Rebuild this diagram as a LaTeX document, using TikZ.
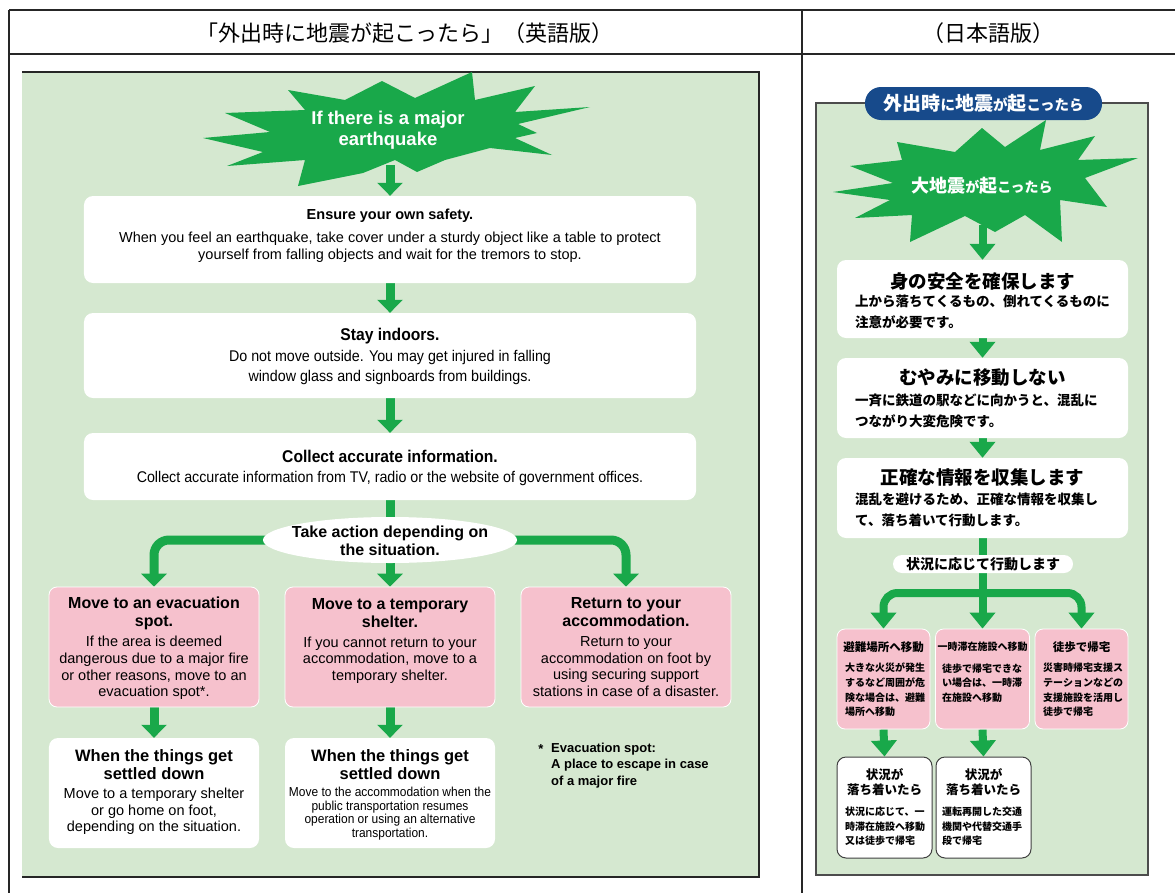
\documentclass[tikz,border=0pt]{standalone}
\usepackage{fontspec}
\setmainfont{Liberation Sans}
\newfontfamily\narrowfont[FakeStretch=0.92]{Liberation Sans}
\newfontfamily\jp{Noto Sans CJK JP}
\usetikzlibrary{arrows.meta,shapes.geometric}
\definecolor{panelgreen}{HTML}{D5E8D0}
\definecolor{stargreen}{HTML}{19A84A}
\definecolor{pinkbox}{HTML}{F6C1CD}
\definecolor{navy}{HTML}{174A8B}
\pgfdeclarelayer{bg}\pgfdeclarelayer{arr}\pgfsetlayers{bg,arr,main}
\newcommand\fs[2]{\fontsize{#1bp}{#2bp}\selectfont}
\tikzset{
  wbox/.style={fill=white, rounded corners=9bp, inner sep=0pt, draw=none},
  pbox/.style={fill=pinkbox, draw=white, line width=0.8bp, rounded corners=8bp, inner sep=0pt},
  qbox/.style={fill=white, draw=black!75, line width=1bp, rounded corners=9bp, inner sep=0pt},
  txt/.style={inner sep=0pt, align=center},
  ltxt/.style={inner sep=0pt, align=left, anchor=west},
  garrow/.style={draw=stargreen, line width=9bp, -{Triangle[width=25bp,length=13bp]}},
  jarrow/.style={draw=stargreen, line width=8bp, -{Triangle[width=25bp,length=16bp]}},
  rule/.style={draw=black!85, line width=1.6bp},
}
\begin{document}
\begin{tikzpicture}[x=1bp,y=-1bp]
\useasboundingbox (0,0) rectangle (1175,893);
% ---------- table ----------
\draw[rule] (9,10) -- (1175,10);
\draw[rule] (9,54) -- (1175,54);
\draw[rule] (9,10) -- (9,893);
\draw[rule] (802,10) -- (802,893);
\node[inner sep=0pt, font=\jp\fs{22}{22}] (h1) at (405,33) {「外出時に地震が起こったら」（英語版）};
\node[inner sep=0pt, font=\jp\fs{22}{22}] (h2) at (988,33) {（日本語版）};
% ---------- panels ----------
\begin{pgfonlayer}{bg}
\fill[panelgreen] (22,72) rectangle (759,877);
\draw[black!85, line width=1.5bp] (22,72) -- (759,72) -- (759,877) -- (22,877);
\fill[panelgreen] (816,103) rectangle (1148,875);
\draw[black!70, line width=1.2bp] (816,103) rectangle (1148,875);
\end{pgfonlayer}
% ---------- English star ----------
\fill[stargreen] (203,138) -- (270,132) -- (225,113) -- (305,110) -- (288,90) -- (345,100) -- (382,81) -- (415,98) -- (472,72) -- (475,100) -- (535,86) -- (515,112) -- (590,107) -- (518,124) -- (537,133) -- (515,138) -- (552,155) -- (490,148) -- (445,160) -- (417,172) -- (395,160) -- (363,173) -- (298,186) -- (305,160) -- (227,166) -- (263,152) -- cycle;
\node[txt, text=white, font=\bfseries\fs{18.5}{21.5}] (s1t) at (388,130) {If there is a major\\earthquake};
\coordinate (s1b) at (390,165);
% ---------- English boxes ----------
\node[wbox, minimum width=612bp, minimum height=87bp] (b1) at (390,239.5) {};
\node[txt, font=\bfseries\fs{14.5}{17}] (b1t) at (390,216) {Ensure your own safety.};
\node[txt, font=\fs{14.5}{17}] (b1x) at (390,247.5) {When you feel an earthquake, take cover under a sturdy object like a table to protect\\yourself from falling objects and wait for the tremors to stop.};
\node[wbox, minimum width=612bp, minimum height=85bp] (b2) at (390,355.5) {};
\node[txt, font=\narrowfont\bfseries\fs{17}{20}] (b2t) at (390,336) {Stay indoors.};
\node[txt, font=\narrowfont\fs{15.5}{20}] (b2x) at (390,367) {Do not move outside. You may get injured in falling\\window glass and signboards from buildings.};
\node[wbox, minimum width=612bp, minimum height=67bp] (b3) at (390,466.5) {};
\node[txt, font=\narrowfont\bfseries\fs{17}{20}] (b3t) at (390,456) {Collect accurate information.};
\node[txt, font=\narrowfont\fs{15.5}{20}] (b3x) at (390,478) {Collect accurate information from TV, radio or the website of government offices.};
\node[ellipse, fill=white, minimum width=254bp, minimum height=46bp, inner sep=0pt] (ell) at (390,540) {};
\node[txt, font=\bfseries\fs{16}{18}] (ellt) at (390,541) {Take action depending on\\the situation.};
\node[pbox, minimum width=210bp, minimum height=120bp] (pA) at (154,647) {};
\node[pbox, minimum width=210bp, minimum height=120bp] (pB) at (390,647) {};
\node[pbox, minimum width=210bp, minimum height=120bp] (pC) at (626,647) {};
\node[txt, font=\bfseries\fs{16}{18}] (pAt) at (154,613) {Move to an evacuation\\spot.};
\node[txt, font=\fs{14.5}{16.7}] (pAx) at (154,668) {If the area is deemed\\dangerous due to a major fire\\or other reasons, move to an\\evacuation spot*.};
\node[txt, font=\bfseries\fs{16}{18}] (pBt) at (390,613) {Move to a temporary\\shelter.};
\node[txt, font=\fs{14.5}{16.7}] (pBx) at (390,660) {If you cannot return to your\\accommodation, move to a\\temporary shelter.};
\node[txt, font=\bfseries\fs{16}{18}] (pCt) at (626,612) {Return to your\\accommodation.};
\node[txt, font=\fs{14.5}{16.4}] (pCx) at (626,666.5) {Return to your\\accommodation on foot by\\using securing support\\stations in case of a disaster.};
\node[wbox, minimum width=210bp, minimum height=110bp] (a2) at (154,793) {};
\node[wbox, minimum width=210bp, minimum height=110bp] (c2) at (390,793) {};
\node[txt, font=\bfseries\fs{16.5}{18}] (a2t) at (154,765) {When the things get\\settled down};
\node[txt, font=\fs{14.5}{16.5}] (a2x) at (154,811.5) {Move to a temporary shelter\\or go home on foot,\\depending on the situation.};
\node[txt, font=\bfseries\fs{16.5}{18}] (c2t) at (390,765) {When the things get\\settled down};
\node[txt, font=\narrowfont\fs{13}{13.7}] (c2x) at (390,813.5) {Move to the accommodation when the\\public transportation resumes\\operation or using an alternative\\transportation.};
\node[inner sep=0pt, font=\bfseries\fs{13}{13}] (fa) at (541,749) {*};
\node[ltxt, font=\bfseries\fs{13}{16.5}] (fn) at (551,765.5) {Evacuation spot:\\A place to escape in case\\of a major fire};
% ---------- English arrows ----------
\begin{pgfonlayer}{arr}
\draw[garrow] (s1b) -- (b1.north);
\draw[garrow] (b1.south) -- (b2.north);
\draw[garrow] (b2.south) -- (b3.north);
\draw[garrow] (b3.south) -- (pB.north);
\draw[garrow, rounded corners=15bp] (ell.center) -| (pA.north);
\draw[garrow, rounded corners=15bp] (ell.center) -| (pC.north);
\draw[garrow] (pA.south) -- (a2.north);
\draw[garrow] (pB.south) -- (c2.north);
\end{pgfonlayer}
% ---------- Japanese ----------
\node[fill=navy, rounded corners=16bp, minimum width=237bp, minimum height=33bp, inner sep=0pt, text=white, font=\jp\bfseries\fs{19}{19}] (jtitle) at (983.5,103.5) {外出時{\fs{14.5}{14.5}に}地震{\fs{14.5}{14.5}が}起{\fs{14.5}{14.5}こったら}};
\fill[stargreen] (833,192) -- (893,183) -- (850,166) -- (902,160) -- (897,142) -- (955,152) -- (982,128) -- (1005,147) -- (1046,120) -- (1040,150) -- (1095,136) -- (1078,160) -- (1138,158) -- (1085,178) -- (1107,207) -- (1060,200) -- (1062,242) -- (1025,215) -- (995,232) -- (965,216) -- (910,242) -- (912,215) -- (855,218) -- (890,200) -- cycle;
\node[txt, text=white, font=\jp\bfseries\fs{18}{18}] (s2t) at (982,186) {大地震{\fs{14}{14}が}起{\fs{14}{14}こったら}};
\coordinate (s2b) at (982.5,225);
\node[wbox, minimum width=291bp, minimum height=78bp] (j1) at (982.5,299) {};
\node[txt, font=\jp\bfseries\fs{18.5}{21}] (j1t) at (982.5,281) {身の安全を確保します};
\node[ltxt, font=\jp\bfseries\fs{13.5}{21}] (j1x) at (855,311.5) {上から落ちてくるもの、倒れてくるものに\\注意が必要です。};
\node[wbox, minimum width=291bp, minimum height=80bp] (j2) at (982.5,398) {};
\node[txt, font=\jp\bfseries\fs{18.5}{21}] (j2t) at (982.5,378) {むやみに移動しない};
\node[ltxt, font=\jp\bfseries\fs{13.5}{21}] (j2x) at (855,410.5) {一斉に鉄道の駅などに向かうと、混乱に\\つながり大変危険です。};
\node[wbox, minimum width=291bp, minimum height=80bp] (j3) at (982.5,498) {};
\node[txt, font=\jp\bfseries\fs{18.5}{21}] (j3t) at (982.5,477) {正確な情報を収集します};
\node[ltxt, font=\jp\bfseries\fs{13.5}{21}] (j3x) at (855,509.5) {混乱を避けるため、正確な情報を収集し\\て、落ち着いて行動します。};
\node[fill=white, rounded corners=9bp, minimum width=180bp, minimum height=18bp, inner sep=0pt, font=\jp\bfseries\fs{14}{14}] (jl) at (983,564) {状況に応じて行動します};
\coordinate (jb) at (982.5,593);
\node[pbox, minimum width=93bp, minimum height=100bp] (q1) at (883.5,679) {};
\node[pbox, minimum width=94bp, minimum height=100bp] (q2) at (982.5,679) {};
\node[pbox, minimum width=93bp, minimum height=100bp] (q3) at (1081.5,679) {};
\node[txt, font=\jp\bfseries\fs{11.5}{14}] (q1t) at (883.5,647) {避難場所へ移動};
\node[ltxt, font=\jp\bfseries\fs{10}{14.7}] (q1x) at (845,690) {大きな火災が発生\\するなど周囲が危\\険な場合は、避難\\場所へ移動};
\node[txt, font=\jp\bfseries\fs{10}{14}] (q2t) at (982.5,647) {一時滞在施設へ移動};
\node[ltxt, font=\jp\bfseries\fs{10}{14.7}] (q2x) at (942,683) {徒歩で帰宅できな\\い場合は、一時滞\\在施設へ移動};
\node[txt, font=\jp\bfseries\fs{11.5}{14}] (q3t) at (1081.5,647) {徒歩で帰宅};
\node[ltxt, font=\jp\bfseries\fs{10}{14.7}] (q3x) at (1043,690) {災害時帰宅支援ス\\テーションなどの\\支援施設を活用し\\徒歩で帰宅};
\node[qbox, minimum width=95bp, minimum height=101bp] (r1) at (884.5,807.5) {};
\node[qbox, minimum width=95bp, minimum height=101bp] (r2) at (983.5,807.5) {};
\node[txt, font=\jp\bfseries\fs{12.5}{15}] (r1t) at (884.5,782.5) {状況が\\落ち着いたら};
\node[ltxt, font=\jp\bfseries\fs{10}{14.5}] (r1x) at (845,826.5) {状況に応じて、一\\時滞在施設へ移動\\又は徒歩で帰宅};
\node[txt, font=\jp\bfseries\fs{12.5}{15}] (r2t) at (983.5,782.5) {状況が\\落ち着いたら};
\node[ltxt, font=\jp\bfseries\fs{10}{14.5}] (r2x) at (942,826.5) {運転再開した交通\\機関や代替交通手\\段で帰宅};
\begin{pgfonlayer}{arr}
\draw[jarrow] (s2b) -- (j1.north);
\draw[jarrow] (j1.south) -- (j2.north);
\draw[jarrow] (j2.south) -- (j3.north);
\draw[jarrow] (j3.south) -- (q2.north);
\draw[jarrow, rounded corners=14bp] (jb) -| (q1.north);
\draw[jarrow, rounded corners=14bp] (jb) -| (q3.north);
\draw[jarrow] (q1.south) -- (r1.north);
\draw[jarrow] (q2.south) -- (r2.north);
\end{pgfonlayer}
\end{tikzpicture}
\end{document}
